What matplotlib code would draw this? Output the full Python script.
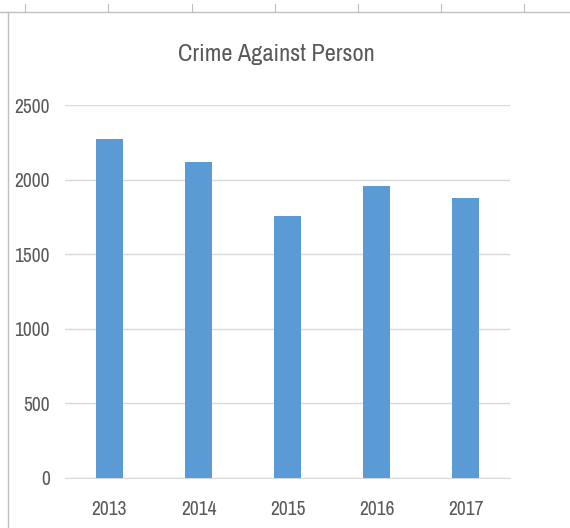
import matplotlib.pyplot as plt
from matplotlib import font_manager
from matplotlib.lines import Line2D

years = ['2013', '2014', '2015', '2016', '2017']
crimes = [2272, 2118, 1756, 1957, 1878]
y_ticks = [0, 500, 1000, 1500, 2000, 2500]

# look for a narrow face (the chart uses Calibri), else Liberation Sans
narrow = sorted({f.name for f in font_manager.fontManager.ttflist
                 if 'Narrow' in f.name or 'Condensed' in f.name})
if narrow:
    font = [narrow[0], 'DejaVu Sans']
    title_size, tick_size = 17.5, 14
else:
    font = ['Liberation Sans', 'DejaVu Sans']
    title_size, tick_size = 16, 11
text_color = '#595959'

fig = plt.figure(figsize=(5.7, 5.28), dpi=100)
ax = fig.add_axes([0.114, 0.0947, 0.781, 0.7063])

ax.bar(range(len(years)), crimes, width=0.30, color='#5B9BD5', zorder=3)
ax.set_xlim(-0.5, len(years) - 0.5)
ax.set_ylim(0, 2500)
ax.set_yticks(y_ticks)
ax.set_xticks(range(len(years)))
ax.set_xticklabels(years)
ax.grid(axis='y', color='#D9D9D9', linewidth=1, zorder=0)
for side in ['top', 'right', 'left']:
    ax.spines[side].set_visible(False)
ax.spines['bottom'].set_color('#D9D9D9')
ax.tick_params(length=0, labelcolor=text_color, labelsize=tick_size)
ax.tick_params(axis='x', pad=16)
ax.tick_params(axis='y', pad=11)
for lbl in ax.get_xticklabels() + ax.get_yticklabels():
    lbl.set_family(font)

fig.text(0.485, 0.896, 'Crime Against Person', ha='center', va='center',
         fontsize=title_size, color=text_color, family=font)

# spreadsheet frame around the chart
fig.add_artist(Line2D([0, 1], [1 - 12 / 528] * 2, color='#BFBFBF', lw=1))
fig.add_artist(Line2D([8 / 570] * 2, [0, 1 - 12 / 528], color='#BFBFBF', lw=1))
for x in [25, 108, 192, 275, 358, 441, 524]:
    fig.add_artist(Line2D([x / 570] * 2, [1 - 12 / 528, 1 - 4 / 528], color='#BFBFBF', lw=0.8))

fig.savefig('out.png', dpi=100)
